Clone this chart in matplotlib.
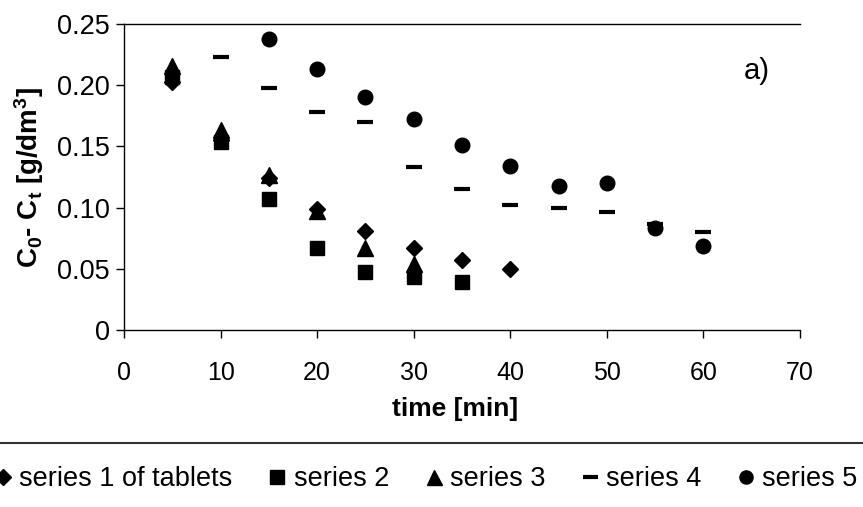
import matplotlib
matplotlib.use("Agg")
import matplotlib.pyplot as plt
from matplotlib.lines import Line2D
from matplotlib.ticker import FuncFormatter

plt.rcParams['font.family'] = ['Liberation Sans', 'DejaVu Sans']
plt.rcParams['mathtext.fontset'] = 'custom'
plt.rcParams['mathtext.rm'] = 'Liberation Sans'
plt.rcParams['mathtext.bf'] = 'Liberation Sans:bold'

# time [min] and C0 - Ct [g/dm3]
t1 = [5, 10, 15, 20, 25, 30, 35, 40]
s1 = [0.203, 0.155, 0.124, 0.099, 0.081, 0.067, 0.057, 0.050]
t2 = [5, 10, 15, 20, 25, 30, 35]
s2 = [0.207, 0.154, 0.107, 0.067, 0.047, 0.043, 0.039]
t3 = [5, 10, 15, 20, 25, 30]
s3 = [0.216, 0.163, 0.127, 0.097, 0.067, 0.054]
t4 = [10, 15, 20, 25, 30, 35, 40, 45, 50, 55, 60]
s4 = [0.223, 0.198, 0.178, 0.170, 0.133, 0.115, 0.102, 0.100, 0.096, 0.087, 0.080]
t5 = [15, 20, 25, 30, 35, 40, 45, 50, 55, 60]
s5 = [0.238, 0.213, 0.190, 0.172, 0.151, 0.134, 0.118, 0.120, 0.083, 0.069]

names = ['series 1 of tablets', 'series 2', 'series 3', 'series 4', 'series 5']

fig = plt.figure(figsize=(8.63, 5.07), dpi=100)
ax = fig.add_axes([124 / 863, 1 - 330 / 507, 676 / 863, 306 / 507])

ax.plot(t1, s1, 'D', color='black', ms=8.5, label=names[0])
ax.plot(t2, s2, 's', color='black', ms=10.5, label=names[1])
ax.plot(t3, s3, '^', color='black', ms=12, label=names[2])
ax.plot(t4, s4, '_', color='black', ms=12, mew=3, label=names[3])
ax.plot(t5, s5, 'o', color='black', ms=10.5, label=names[4])

ax.set_xlim(0, 70)
ax.set_ylim(0, 0.25)
ax.set_xticks(range(0, 71, 10))
ax.set_yticks([0, 0.05, 0.10, 0.15, 0.20, 0.25])
ax.yaxis.set_major_formatter(FuncFormatter(lambda v, p: '0' if v == 0 else f'{v:.2f}'))
ax.tick_params(axis='both', direction='out', length=6, width=1)
ax.tick_params(axis='x', pad=16, labelsize=18)
ax.tick_params(axis='y', pad=4, labelsize=19.5)

ax.spines['right'].set_visible(False)
for s in ['left', 'top', 'bottom']:
    ax.spines[s].set_linewidth(1)

ax.set_xlabel('time [min]', fontsize=19, fontweight='bold', labelpad=3)
ax.xaxis.set_label_coords(0.489, -0.22)
ax.set_ylabel(r'C$\mathbf{_0}$- C$\mathbf{_t}$ [g/dm$\mathbf{^3}$]', fontsize=20,
              fontweight='bold', labelpad=8)

ax.text(65.5, 0.212, 'a)', fontsize=21, ha='center', va='center')

fig.add_artist(Line2D([0, 1], [1 - 443 / 507] * 2, transform=fig.transFigure,
                      color='#333333', lw=1.5))

fig.legend(loc='center left', bbox_to_anchor=(-5 / 863, 1 - 479 / 507), ncol=5,
           frameon=False, fontsize=19.5, handlelength=0.6, handletextpad=0.3,
           columnspacing=1.35, borderpad=0, borderaxespad=0, markerscale=0.9)

fig.savefig('out.png', dpi=100)
